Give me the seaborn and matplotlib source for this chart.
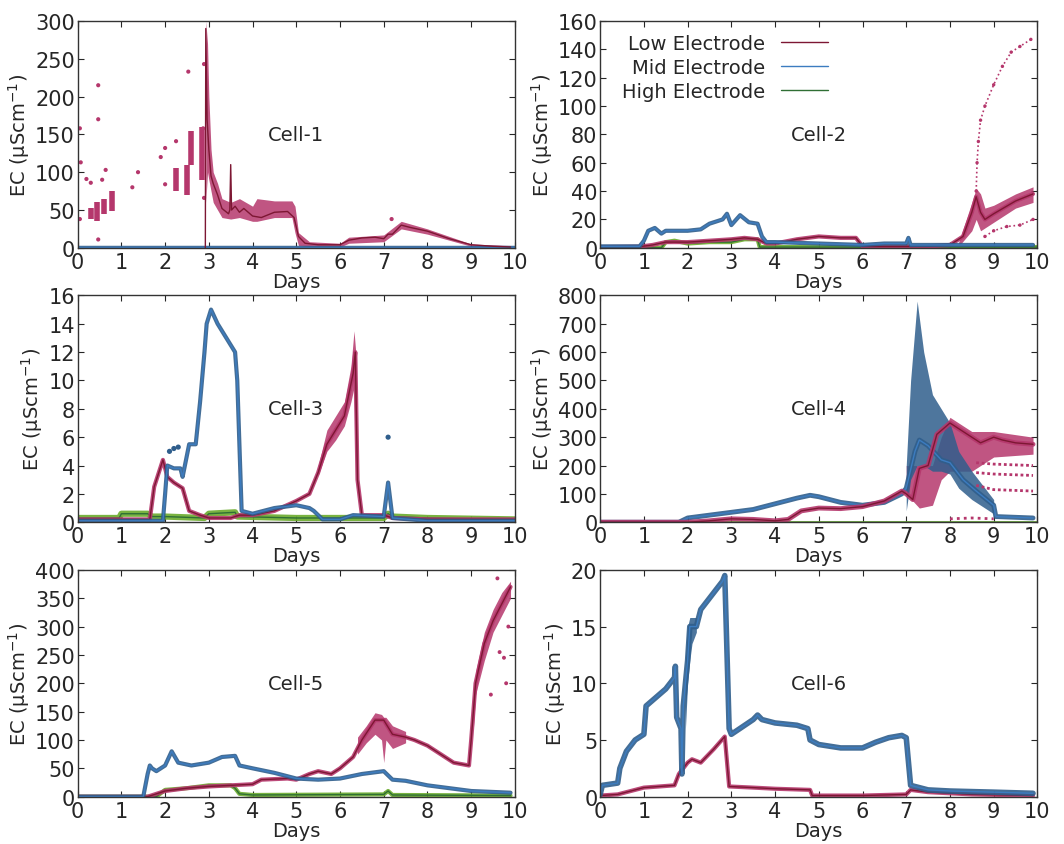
import numpy as np
import pandas as pd
import matplotlib
matplotlib.use('Agg')
import matplotlib.pyplot as plt
import seaborn as sns

# cores das séries
LOW_DOT, LOW_LINE = '#b5376c', '#7d1733'
MID_DOT, MID_LINE = '#2f5e8c', '#3c7cc0'
HIGH_DOT, HIGH_LINE = '#6bab2c', '#2f6f34'

# ---------------- Cell-1 ----------------
c1_low_x = [2.92, 2.93, 2.96, 3.0, 3.05, 3.1, 3.2, 3.3, 3.45, 3.48, 3.5, 3.52, 3.6, 3.7, 3.8, 4.0,
            4.2, 4.5, 4.8, 4.95, 5.05, 5.2, 5.5, 6.0, 6.2, 6.5, 6.8, 7.0, 7.1, 7.2, 7.4, 7.6,
            8.0, 8.5, 9.0, 9.5, 9.9]
c1_low_y = [0, 290, 170, 130, 95, 85, 70, 52, 45, 50, 110, 50, 55, 47, 52, 42,
            40, 47, 48, 40, 15, 6, 4, 4, 10, 13, 14, 12, 18, 18, 30, 27,
            22, 12, 4, 2, 1]
c1_band_x = [2.93, 2.97, 3.0, 3.05, 3.1, 3.2, 3.3, 3.5, 3.7, 4.0, 4.1, 4.5, 4.9, 4.97, 5.05, 5.3,
             6.0, 6.2, 7.0, 7.4, 8.0, 9.0, 9.9]
c1_band_lo = [60, 100, 90, 75, 60, 50, 40, 38, 40, 35, 35, 40, 40, 20, 3, 1, 1, 6, 8, 25, 18, 2, 0]
c1_band_hi = [300, 270, 200, 130, 100, 85, 65, 60, 65, 55, 65, 62, 62, 55, 20, 8, 6, 14, 17, 35, 25, 5, 3]
c1_clu_x = [0.31, 0.45, 0.6, 0.78, 2.25, 2.5, 2.6, 2.85]
c1_clu_lo = [38, 35, 45, 48, 75, 70, 110, 90]
c1_clu_hi = [52, 60, 65, 75, 105, 110, 155, 160]
c1_dot_x = [0.05, 0.07, 0.05, 0.2, 0.3, 0.47, 0.47, 0.47, 0.64, 0.56, 1.25, 1.38, 1.9, 2.0, 2.0,
            2.25, 2.53, 2.89, 2.89, 2.87, 7.18]
c1_dot_y = [158, 113, 38, 91, 86, 215, 170, 11, 103, 90, 80, 100, 120, 132, 84,
            141, 233, 243, 66, 158, 38]
c1_mid_x = [0, 10]
c1_mid_y = [0.8, 0.8]
c1_high_x = [0, 10]
c1_high_y = [0.3, 0.3]

# ---------------- Cell-2 ----------------
c2_low_x = [0, 0.9, 1.2, 1.5, 2.0, 2.5, 3.0, 3.3, 3.6, 3.8, 4.0, 4.5, 5.0, 5.5, 5.85, 6.0, 7.0,
            7.5, 8.0, 8.3, 8.5, 8.6, 8.7, 8.8, 9.0, 9.5, 9.9]
c2_low_y = [0.5, 0.8, 2, 4, 4, 5, 6, 7, 6, 3, 3, 6, 8, 7, 7, 1, 1,
            1, 2, 8, 25, 36, 25, 20, 24, 33, 38]
c2_up_x = [8.6, 8.62, 8.65, 8.7, 8.8, 9.0, 9.2, 9.4, 9.6, 9.85]
c2_up_y = [40, 60, 75, 90, 100, 115, 128, 138, 142, 147]
c2_lw_x = [8.8, 9.0, 9.3, 9.6, 9.9]
c2_lw_y = [8, 12, 15, 16, 20]
c2_band_x = [8.2, 8.5, 8.6, 8.7, 8.8, 9.0, 9.5, 9.9]
c2_band_lo = [1, 12, 20, 12, 14, 18, 28, 32]
c2_band_hi = [4, 32, 42, 38, 28, 30, 38, 43]
c2_mid_x = [0, 0.9, 1.0, 1.1, 1.25, 1.4, 1.5, 2.0, 2.3, 2.5, 2.8, 2.9, 3.0, 3.2, 3.4, 3.6, 3.7, 3.8,
            4.0, 5.0, 6.0, 6.5, 7.0, 7.05, 7.1, 8.0, 9.0, 9.9]
c2_mid_y = [1, 1, 5, 12, 14, 10, 12, 12, 13, 17, 20, 24, 16, 23, 18, 17, 8, 4,
            4, 3, 2, 3, 3, 7, 2, 2, 2, 2]
c2_high_x = [0, 1.4, 1.5, 1.7, 2.0, 2.5, 3.0, 3.3, 3.6, 3.65, 10]
c2_high_y = [0, 0, 4, 5, 3, 4, 4, 6, 6, 0.5, 0.5]

# ---------------- Cell-3 ----------------
c3_low_x = [0, 1.65, 1.75, 1.95, 2.05, 2.2, 2.4, 2.55, 2.8, 3.0, 3.5, 3.7, 4.0, 4.5, 5.0, 5.3,
            5.5, 5.7, 5.9, 6.1, 6.3, 6.35, 6.4, 6.5, 7.0, 7.2, 8.0, 10]
c3_low_y = [0.2, 0.2, 2.5, 4.4, 3.2, 2.8, 2.4, 0.8, 0.5, 0.3, 0.3, 0.5, 0.5, 0.8, 1.5, 2.0,
            3.5, 5.5, 6.5, 7.5, 10.5, 12, 3, 0.5, 0.5, 0.3, 0.2, 0.2]
c3_band_x = [5.5, 5.7, 5.9, 6.1, 6.25, 6.32, 6.36]
c3_band_lo = [3.3, 5.0, 5.8, 6.8, 8.5, 9.5, 4]
c3_band_hi = [4.0, 6.5, 7.5, 8.5, 11.0, 13.5, 12]
c3_mid_x = [0, 1.95, 2.0, 2.05, 2.2, 2.35, 2.4, 2.55, 2.7, 2.8, 2.9, 2.95, 3.05, 3.2, 3.4, 3.5,
            3.6, 3.65, 3.75, 4.0, 4.5, 5.0, 5.3, 5.4, 5.6, 6.0, 6.3, 7.0, 7.1, 7.2, 8.0, 10]
c3_mid_y = [0.1, 0.1, 2, 4, 3.8, 3.8, 3.2, 5.5, 5.5, 8.5, 12, 14, 15, 14, 13, 12.5,
            12, 10, 0.8, 0.6, 1, 1.2, 1.0, 0.8, 0.2, 0.2, 0.5, 0.4, 2.8, 0.3, 0.1, 0.1]
c3_dot_x = [7.1, 2.1, 2.2, 2.3]
c3_dot_y = [6.0, 5.0, 5.2, 5.3]
c3_high_x = [0, 0.95, 1.0, 1.6, 1.7, 2.0, 2.9, 3.0, 3.6, 3.65, 5.0, 7.0, 7.1, 7.2, 8.0, 10]
c3_high_y = [0.3, 0.3, 0.6, 0.6, 0.4, 0.4, 0.3, 0.6, 0.7, 0.4, 0.3, 0.3, 0.6, 0.4, 0.3, 0.2]

# ---------------- Cell-4 ----------------
c4_low_x = [0, 2.0, 2.5, 3.0, 3.5, 4.0, 4.3, 4.6, 5.0, 5.5, 6.0, 6.5, 6.9, 7.0, 7.15, 7.3, 7.5,
            7.7, 8.0, 8.1, 8.3, 8.5, 8.7, 9.0, 9.2, 9.5, 9.9]
c4_low_y = [0, 0, 5, 12, 10, 5, 10, 40, 50, 48, 55, 75, 110, 100, 80, 190, 200,
            310, 350, 340, 320, 300, 280, 300, 290, 280, 275]
c4_band_x = [7.0, 7.3, 7.6, 7.8, 8.0, 8.5, 9.0, 9.9]
c4_band_lo = [100, 50, 60, 150, 180, 180, 230, 240]
c4_band_hi = [200, 200, 200, 300, 370, 320, 320, 300]
c4_str_x = [8.6, 9.0, 9.9]
c4_str1_y = [210, 205, 200]
c4_str2_y = [175, 170, 165]
c4_str3_y = [130, 115, 110]
c4_zero_x = [8.0, 8.5, 9.0]
c4_zero_y = [12, 15, 12]
c4_mid_x = [0, 1.8, 2.0, 2.5, 3.0, 3.5, 4.0, 4.5, 4.8, 5.0, 5.5, 6.0, 6.5, 6.9, 7.0, 7.2, 7.3,
            7.5, 7.8, 8.0, 8.3, 8.6, 9.0, 9.05, 9.9]
c4_mid_y = [0, 0, 15, 25, 35, 45, 65, 85, 95, 90, 70, 60, 70, 100, 120, 250, 290,
            270, 220, 210, 150, 110, 60, 20, 15]
c4_mband_x = [7.0, 7.1, 7.25, 7.4, 7.6, 7.8, 8.0, 8.2, 8.5, 8.8, 9.0]
c4_mband_lo = [40, 150, 200, 200, 180, 180, 170, 120, 80, 50, 30]
c4_mband_hi = [200, 500, 780, 600, 450, 400, 350, 250, 180, 120, 80]
c4_high_x = [0, 10]
c4_high_y = [0, 0]

# ---------------- Cell-5 ----------------
c5_low_x = [0, 1.6, 1.8, 2.0, 2.5, 3.0, 3.5, 4.0, 4.2, 4.8, 5.0, 5.3, 5.5, 5.8, 6.0, 6.3, 6.5,
            6.8, 7.0, 7.2, 7.5, 7.7, 8.0, 8.3, 8.6, 8.95, 9.0, 9.1, 9.3, 9.5, 9.7, 9.9]
c5_low_y = [0, 0, 5, 10, 15, 18, 20, 22, 30, 32, 30, 40, 45, 40, 50, 70, 100,
            135, 135, 110, 105, 100, 90, 75, 60, 55, 100, 200, 270, 310, 340, 370]
c5_band1_x = [6.4, 6.6, 6.8, 6.95, 7.0, 7.05, 7.2, 7.5]
c5_band1_lo = [75, 95, 110, 100, 60, 100, 85, 95]
c5_band1_hi = [105, 125, 148, 145, 140, 140, 125, 115]
c5_band2_x = [9.05, 9.1, 9.3, 9.5, 9.7, 9.9]
c5_band2_lo = [120, 180, 240, 290, 320, 350]
c5_band2_hi = [160, 220, 290, 330, 360, 380]
c5_dot_x = [9.6, 9.65, 9.75, 9.8, 9.85, 9.45]
c5_dot_y = [385, 255, 245, 200, 300, 180]
c5_mid_x = [0, 1.5, 1.6, 1.65, 1.7, 1.8, 2.0, 2.15, 2.3, 2.6, 3.0, 3.3, 3.6, 3.7, 4.0, 4.5, 5.0,
            5.5, 6.0, 6.5, 7.0, 7.2, 7.5, 8.0, 8.5, 9.0, 9.9]
c5_mid_y = [0, 0, 40, 55, 50, 45, 55, 80, 60, 55, 60, 70, 72, 55, 50, 42, 32,
            30, 32, 40, 45, 30, 28, 20, 15, 10, 7]
c5_high_x = [0, 1.8, 2.0, 2.5, 3.0, 3.5, 3.6, 3.7, 4.0, 7.0, 7.1, 7.2, 9.9]
c5_high_y = [0, 0, 12, 15, 20, 20, 15, 5, 3, 4, 10, 3, 2]

# ---------------- Cell-6 ----------------
c6_low_x = [0, 0.4, 0.8, 1.0, 1.7, 1.8, 2.0, 2.1, 2.3, 2.6, 2.85, 2.95, 3.5, 4.0, 4.8, 4.85,
            6.0, 7.0, 7.1, 7.5, 8.5, 9.9]
c6_low_y = [0.1, 0.2, 0.6, 0.8, 1.0, 2.0, 3.0, 3.3, 3.0, 4.2, 5.3, 0.9, 0.8, 0.7, 0.6, 0.1,
            0.1, 0.2, 0.6, 0.4, 0.2, 0.1]
c6_mid_x = [0, 0.05, 0.4, 0.45, 0.6, 0.8, 1.0, 1.05, 1.2, 1.5, 1.7, 1.72, 1.75, 1.85, 1.87, 1.9,
            2.0, 2.05, 2.2, 2.3, 2.6, 2.8, 2.85, 2.95, 3.0, 3.5, 3.6, 3.7, 4.0, 4.5, 4.75,
            4.8, 5.0, 5.5, 6.0, 6.3, 6.6, 6.9, 7.0, 7.1, 7.5, 8.0, 9.0, 9.9]
c6_mid_y = [0.2, 1.0, 1.2, 2.5, 4, 5, 5.5, 8, 8.5, 9.5, 10.5, 11.5, 7, 6, 2, 8,
            12, 15, 15, 16.5, 18, 19, 19.5, 6, 5.5, 6.8, 7.2, 6.8, 6.5, 6.3, 6.0,
            5.0, 4.6, 4.3, 4.3, 4.8, 5.2, 5.4, 5.2, 1.0, 0.6, 0.5, 0.4, 0.3]
c6_mband_x = [1.95, 2.0, 2.05, 2.1, 2.2]
c6_mband_lo = [6, 10, 12, 13.5, 14.5]
c6_mband_hi = [12, 15, 15.8, 15.8, 15.8]

ymax_list = [300, 160, 16, 800, 400, 20]
ystep_list = [50, 20, 2, 100, 50, 5]
cell_names = ['Cell-1', 'Cell-2', 'Cell-3', 'Cell-4', 'Cell-5', 'Cell-6']


def serie(ax, x, y, dot_color, line_color, dot_lw=3.0, line_lw=1.0, label=None):
    # nuvem de pontos (traço grosso) + linha suavizada fina
    df = pd.DataFrame({'dia': x, 'ec': y})
    sns.lineplot(data=df, x='dia', y='ec', ax=ax, color=dot_color, lw=dot_lw,
                 estimator=None, sort=False, alpha=0.9)
    sns.lineplot(data=df, x='dia', y='ec', ax=ax, color=line_color, lw=line_lw,
                 estimator=None, sort=False, label=label)


def faixa(ax, x, lo, hi, color):
    ax.fill_between(x, lo, hi, color=color, alpha=0.85, lw=0)


def pontos(ax, x, y, color, s=9):
    sns.scatterplot(x=x, y=y, ax=ax, color=color, s=s, edgecolor='none')


sns.set_theme(style='ticks')
plt.rcParams['font.family'] = ['DejaVu Sans']

fig, axes = plt.subplots(3, 2, figsize=(10.64, 8.45), dpi=100)
plt.subplots_adjust(left=0.073, right=0.975, top=0.974, bottom=0.056, wspace=0.195, hspace=0.21)
axs = axes.flatten()

# Cell-1
ax = axs[0]
serie(ax, c1_high_x, c1_high_y, HIGH_DOT, HIGH_LINE, dot_lw=2)
serie(ax, c1_mid_x, c1_mid_y, MID_DOT, MID_LINE, dot_lw=2.5)
faixa(ax, c1_band_x, c1_band_lo, c1_band_hi, LOW_DOT)
serie(ax, c1_low_x, c1_low_y, LOW_DOT, LOW_LINE, dot_lw=0.01)
ax.vlines(c1_clu_x, c1_clu_lo, c1_clu_hi, color=LOW_DOT, lw=4)
pontos(ax, c1_dot_x, c1_dot_y, LOW_DOT)

# Cell-2
ax = axs[1]
serie(ax, c2_high_x, c2_high_y, HIGH_DOT, HIGH_LINE, dot_lw=3, label='High Electrode')
faixa(ax, c2_band_x, c2_band_lo, c2_band_hi, LOW_DOT)
serie(ax, c2_low_x, c2_low_y, LOW_DOT, LOW_LINE, dot_lw=3, label='Low Electrode')
serie(ax, c2_mid_x, c2_mid_y, MID_DOT, MID_LINE, dot_lw=3, label='Mid Electrode')
pontos(ax, c2_up_x, c2_up_y, LOW_DOT, s=6)
pontos(ax, c2_lw_x, c2_lw_y, LOW_DOT, s=6)
sns.lineplot(x=c2_up_x, y=c2_up_y, ax=ax, color=LOW_DOT, lw=1.2, ls=':')
sns.lineplot(x=c2_lw_x, y=c2_lw_y, ax=ax, color=LOW_DOT, lw=1.2, ls=':')
h, l = ax.get_legend_handles_labels()
ordem = [l.index('Low Electrode'), l.index('Mid Electrode'), l.index('High Electrode')]
ax.legend([h[i] for i in ordem], [l[i] for i in ordem], loc='upper right',
          bbox_to_anchor=(0.56, 1.02), frameon=False, fontsize=14, markerfirst=False,
          handlelength=2.4, labelspacing=0.25)

# Cell-3
ax = axs[2]
serie(ax, c3_high_x, c3_high_y, HIGH_DOT, HIGH_LINE, dot_lw=4.5)
faixa(ax, c3_band_x, c3_band_lo, c3_band_hi, LOW_DOT)
serie(ax, c3_low_x, c3_low_y, LOW_DOT, LOW_LINE, dot_lw=3)
serie(ax, c3_mid_x, c3_mid_y, MID_DOT, MID_LINE, dot_lw=3)
pontos(ax, c3_dot_x, c3_dot_y, MID_DOT, s=14)

# Cell-4
ax = axs[3]
serie(ax, c4_high_x, c4_high_y, HIGH_DOT, HIGH_LINE, dot_lw=2)
faixa(ax, c4_band_x, c4_band_lo, c4_band_hi, LOW_DOT)
for s_y in [c4_str1_y, c4_str2_y, c4_str3_y]:
    sns.lineplot(x=c4_str_x, y=s_y, ax=ax, color=LOW_DOT, lw=2, ls=(0, (1, 1)))
sns.lineplot(x=c4_zero_x, y=c4_zero_y, ax=ax, color=LOW_DOT, lw=2, ls=(0, (1, 1.5)))
faixa(ax, c4_mband_x, c4_mband_lo, c4_mband_hi, MID_DOT)
serie(ax, c4_mid_x, c4_mid_y, MID_DOT, MID_LINE, dot_lw=3.5)
serie(ax, c4_low_x, c4_low_y, LOW_DOT, LOW_LINE, dot_lw=3.5)

# Cell-5
ax = axs[4]
serie(ax, c5_high_x, c5_high_y, HIGH_DOT, HIGH_LINE, dot_lw=3)
faixa(ax, c5_band1_x, c5_band1_lo, c5_band1_hi, LOW_DOT)
faixa(ax, c5_band2_x, c5_band2_lo, c5_band2_hi, LOW_DOT)
serie(ax, c5_low_x, c5_low_y, LOW_DOT, LOW_LINE, dot_lw=3)
pontos(ax, c5_dot_x, c5_dot_y, LOW_DOT, s=8)
serie(ax, c5_mid_x, c5_mid_y, MID_DOT, MID_LINE, dot_lw=3)

# Cell-6
ax = axs[5]
serie(ax, c6_low_x, c6_low_y, LOW_DOT, LOW_LINE, dot_lw=3)
faixa(ax, c6_mband_x, c6_mband_lo, c6_mband_hi, MID_DOT)
serie(ax, c6_mid_x, c6_mid_y, MID_DOT, MID_LINE, dot_lw=4)

for i, ax in enumerate(axs):
    ax.set_xlim(0, 10)
    ax.set_ylim(0, ymax_list[i])
    ax.set_xticks(range(0, 11))
    ax.set_yticks(np.arange(0, ymax_list[i] + 1e-9, ystep_list[i]))
    ax.tick_params(direction='in', top=True, right=True, labelsize=15, length=4, width=0.8, pad=2)
    ax.tick_params(axis='x', pad=3)
    for sp in ax.spines.values():
        sp.set_color('#333333')
        sp.set_linewidth(1.0)
    ax.set_xlabel('Days', fontsize=14, labelpad=0)
    ax.set_ylabel('EC (µScm$^{-1}$)', fontsize=14, labelpad=2)
    ax.text(0.5, 0.5, cell_names[i], transform=ax.transAxes, fontsize=14,
            ha='center', va='center')

plt.savefig('out.png', dpi=100)
plt.close()
